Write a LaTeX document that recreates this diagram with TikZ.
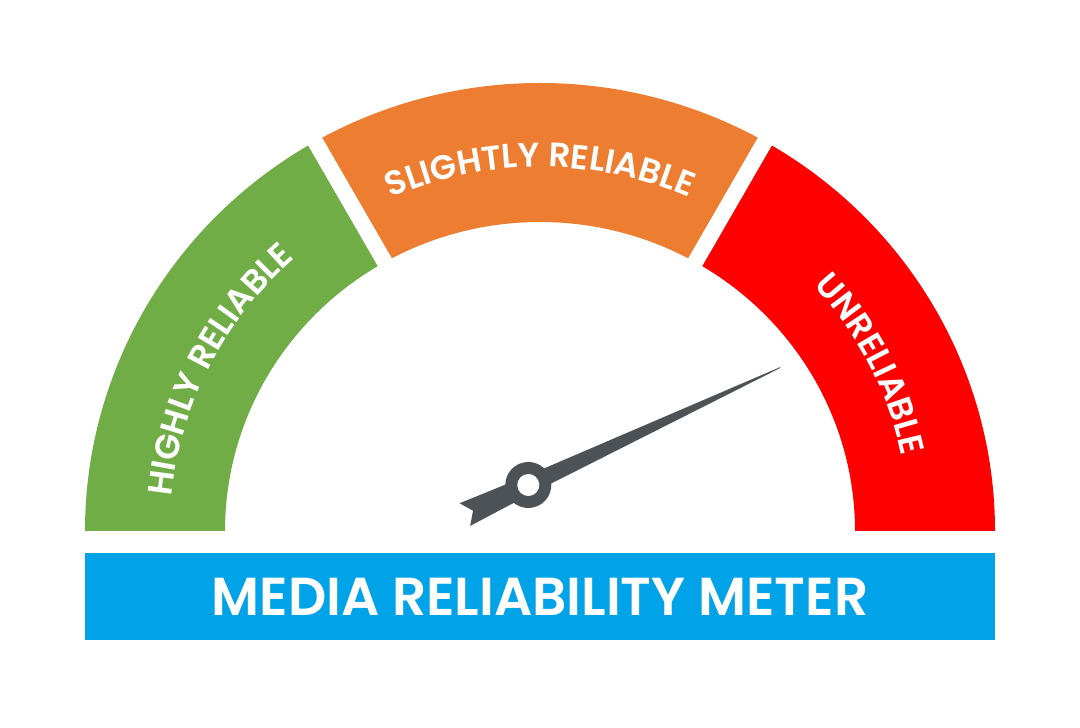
\documentclass[tikz,border=0pt]{standalone}
\usepackage{fontspec}
\setmainfont{Poppins}[BoldFont={* SemiBold}]
\usetikzlibrary{decorations.text}
\definecolor{meterGreen}{HTML}{70AD47}
\definecolor{meterOrange}{HTML}{ED7D31}
\definecolor{meterRed}{HTML}{FF0000}
\definecolor{meterBlue}{HTML}{00A3E8}
\definecolor{needleGray}{HTML}{4D5257}
\newcommand{\labelfont}{\bfseries\fontsize{9.7pt}{10pt}\selectfont}

\begin{document}
\begin{tikzpicture}[
  gaptick/.style={white,line width=1.6mm},
  arclabel/.style={decorate,decoration={text along path,text align=center,
    text color=white,text={|\labelfont|#1}}},
  bartitle/.style={fill=meterBlue,text=white,inner sep=0pt,
    minimum width=9.10cm,minimum height=0.87cm,
    font=\bfseries\fontsize{15.2pt}{18pt}\selectfont},
]
  \useasboundingbox[fill=white] (0,0) rectangle (10.8,7.28);
  % gauge sectors
  \begin{scope}[shift={(5.40,1.97)}]
    \fill[meterGreen] (180:4.55 and 4.48) arc[start angle=180,end angle=120,x radius=4.55,y radius=4.48]
      -- (120:3.15 and 3.09) arc[start angle=120,end angle=180,x radius=3.15,y radius=3.09] -- cycle;
    \fill[meterOrange] (120:4.55 and 4.48) arc[start angle=120,end angle=60,x radius=4.55,y radius=4.48]
      -- (60:3.15 and 3.09) arc[start angle=60,end angle=120,x radius=3.15,y radius=3.09] -- cycle;
    \fill[meterRed] (60:4.55 and 4.48) arc[start angle=60,end angle=0,x radius=4.55,y radius=4.48]
      -- (0:3.15 and 3.09) arc[start angle=0,end angle=60,x radius=3.15,y radius=3.09] -- cycle;
    % white gaps
    \draw[gaptick] (120:3.0) -- (120:4.7);
    \draw[gaptick] (60:3.0) -- (60:4.7);
    % labels along the arcs
    \path[arclabel={HIGHLY RELIABLE}] (183:3.70 and 3.64)
      arc[start angle=183,end angle=123,x radius=3.70,y radius=3.64];
    \path[arclabel={SLIGHTLY RELIABLE}] (120:3.70 and 3.64)
      arc[start angle=120,end angle=60,x radius=3.70,y radius=3.64];
    \path[arclabel={UNRELIABLE}] (57:3.70 and 3.64)
      arc[start angle=57,end angle=-3,x radius=3.70,y radius=3.64];
  \end{scope}
  % needle
  \coordinate (pivot) at (5.283,2.43);
  \begin{scope}[shift={(pivot)},rotate=25]
    \fill[needleGray] (0,0.09) -- (2.78,0.004) -- (2.78,-0.004) -- (0,-0.09)
      -- (-0.70,-0.125) -- (-0.61,0) -- (-0.70,0.125) -- cycle;
    \fill[needleGray] (0,0) circle (0.23);
    \fill[white] (0,0) circle (0.11);
  \end{scope}
  % title bar
  \node[bartitle] (bar) at (5.40,1.315) {MEDIA RELIABILITY METER};
\end{tikzpicture}
\end{document}
